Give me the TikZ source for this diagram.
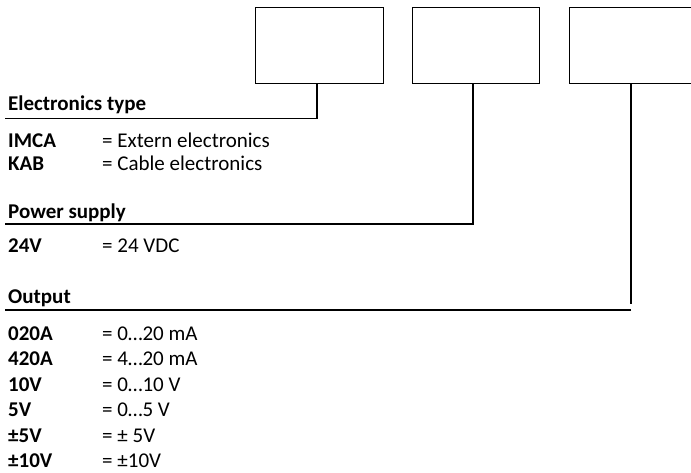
\documentclass[tikz,border=0pt]{standalone}
\usepackage{fontspec}
\setmainfont{Carlito}
\begin{document}
\begin{tikzpicture}[x=1pt,y=-1pt,
  codebox/.style={draw,line width=1.3pt,minimum width=128pt,minimum height=76pt,anchor=north west,inner sep=0pt},
  conn/.style={line width=1.3pt},
  head/.style={anchor=base west,inner sep=0pt,font=\fontsize{21}{25}\selectfont\bfseries},
  key/.style={anchor=base west,inner sep=0pt,font=\fontsize{21}{25}\selectfont\bfseries},
  val/.style={anchor=base west,inner sep=0pt,font=\fontsize{21}{25}\selectfont}]
\useasboundingbox (0,0) rectangle (691,472);
\begin{scope}
\clip (0,0) rectangle (691,472);
\node[codebox] (b1) at (255,7) {};
\node[codebox,minimum width=127pt] (b2) at (412,7) {};
\node[codebox,minimum width=140pt] (b3) at (569,7) {};
\end{scope}
% headings
\node[head] (h1) at (8,110.5) {Electronics type};
\node[head] (h2) at (8,218) {Power supply};
\node[head] (h3) at (8,303) {Output};
% connectors
\coordinate (e1) at (5,118.5);
\coordinate (e2) at (5,224);
\coordinate (e3) at (5,310);
\coordinate (t3) at (631,304);
\coordinate (m3) at (631,310);
\draw[conn] (b1.south -| 317,0) |- (e1);
\draw[conn] (b2.south -| 473,0) |- (e2);
\draw[conn] (b3.south -| t3) -- (t3);
\draw[conn] (m3) -- (e3);
% entries
\node[key] (k1) at (8,147) {IMCA};
\node[val] (v1) at (102,147) {= Extern electronics};
\node[key] (k2) at (8,170) {KAB};
\node[val] (v2) at (102,170) {= Cable electronics};
\node[key] (k3) at (8,252) {24V};
\node[val] (v3) at (102,252) {= 24 VDC};
\node[key] (k4) at (8,340) {020A};
\node[val] (v4) at (102,340) {= 0…20 mA};
\node[key] (k5) at (8,365.5) {420A};
\node[val] (v5) at (102,365.5) {= 4…20 mA};
\node[key] (k6) at (8,391) {10V};
\node[val] (v6) at (102,391) {= 0…10 V};
\node[key] (k7) at (8,416.5) {5V};
\node[val] (v7) at (102,416.5) {= 0…5 V};
\node[key] (k8) at (8,442) {±5V};
\node[val] (v8) at (102,442) {= ± 5V};
\node[key] (k9) at (8,467.5) {±10V};
\node[val] (v9) at (102,467.5) {= ±10V};
\end{tikzpicture}
\end{document}
